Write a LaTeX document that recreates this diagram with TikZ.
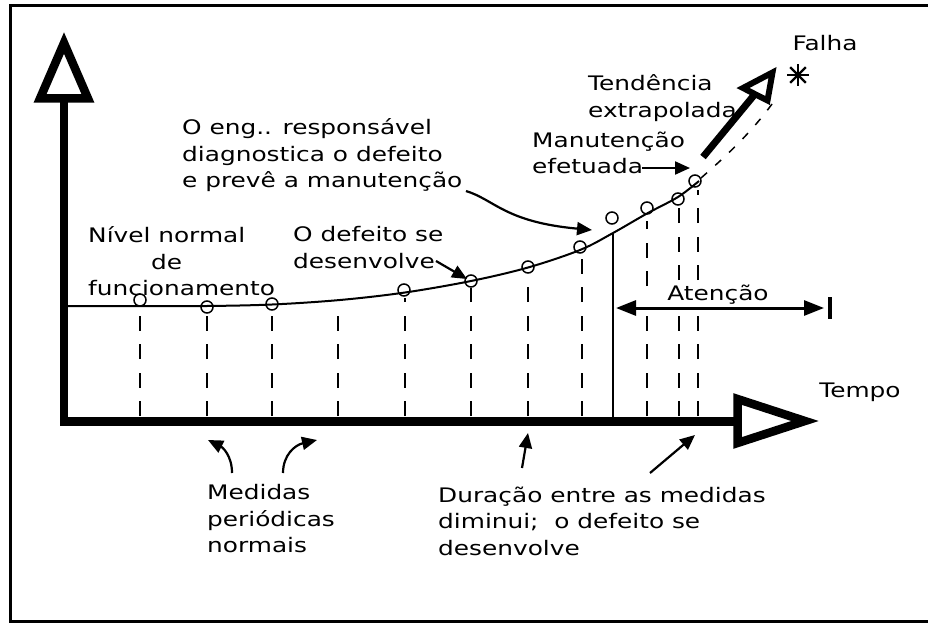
\documentclass[tikz,border=0pt]{standalone}
\usepackage{fontspec}
\setmainfont{DejaVu Sans}[FakeStretch=1.24]
\usetikzlibrary{arrows.meta}
\begin{document}
\begin{tikzpicture}[x=1pt,y=-1pt,
  lbl/.style={font=\fontsize{20}{26.5}\selectfont, inner sep=0pt, align=left, anchor=north west},
  word/.style={font=\fontsize{20}{26.5}\selectfont, inner sep=0pt},
  axis/.style={line width=8.5pt, line join=miter},
  pt/.style={circle, draw, line width=1.5pt, minimum size=12pt, inner sep=0pt},
  curve/.style={line width=2pt},
  tick/.style={dash pattern=on 15pt off 13.5pt, line width=1.6pt},
  thicktick/.style={tick, line width=2.8pt},
  pointer/.style={line width=2.2pt, -{Triangle[length=15pt,width=13pt]}},
]
\useasboundingbox (0,0) rectangle (928,623);
\fill[white] (0,0) rectangle (928,623);

% outer frame (right side runs off the page)
\draw[line width=3pt] (932,6) -- (10,6) -- (10,621) -- (932,621);

% axes with open triangular heads
\coordinate (ytop) at (64,98.5);
\coordinate (O) at (64,421.5);
\coordinate (xend) at (737.5,421.5);
\draw[axis] (ytop) -- (O) -- (xend);
\draw[axis] (40,98.5) -- (88,98.5) -- (64,43) -- cycle;
\draw[axis] (737.5,399) -- (737.5,443) -- (805,421) -- cycle;

% measurement curve
\draw[curve] plot[smooth, tension=0.55] coordinates {(68,306) (140,306) (207,306) (272,304.5) (340,300) (405,292.5) (471,281) (528,267.5) (580,250) (613,233) (647,213.5) (678,197) (699,181)};
% extrapolated part
\draw[line width=1.5pt, dash pattern=on 8pt off 11pt] (701,178) .. controls (725,157) and (750,134) .. (772,104);

% measurement instants
\foreach \x/\t in {140/315, 338/304, 582/256}
  \draw[tick] (\x,416) -- (\x,\t);
\foreach \x/\t in {207/314, 272/311, 405/298, 471/288, 528/275}
  \draw[thicktick] (\x,416) -- (\x,\t);
% the late instants leave room for the alert label
\draw[tick] (647,416) -- (647,316);
\draw[tick] (647,286) -- (647,221);
\foreach \x/\t in {679/206, 698/190} {
  \draw[thicktick] (\x,416) -- (\x,316);
  \draw[thicktick] (\x,280) -- (\x,\t);
}
\draw[line width=2.5pt] (613,233) -- (613,418);

% measured points
\node[pt] (c1) at (140,300) {};
\node[pt] (c2) at (207,307) {};
\node[pt] (c3) at (272,304) {};
\node[pt] (c4) at (404,290) {};
\node[pt] (c5) at (471,281) {};
\node[pt] (c6) at (528,267) {};
\node[pt] (c7) at (580,247) {};
\node[pt] (c8) at (612,218) {};
\node[pt] (c9) at (647,208) {};
\node[pt] (c10) at (678,199) {};
\node[pt] (c11) at (695,181) {};

% alert zone
\coordinate (atl) at (616,308);
\coordinate (atr) at (824,308);
\draw[line width=3pt, {Triangle[length=20pt,width=15pt]}-{Triangle[length=20pt,width=15pt]}] (atl) -- (atr);
\draw[line width=4pt] (830,297) -- (830,319);
\node[word, anchor=base] (aten) at (718,300) {Atenção};

% trend arrow and failure mark
\coordinate (tr0) at (703,157);
\coordinate (trb) at (755,94);
\draw[line width=7pt] (tr0) -- (trb);
\draw[line width=6pt, line join=miter] (743,88) -- (767.5,100.5) -- (772.5,72.5) -- cycle;
\foreach \a in {0,45,90,135}
  \draw[line width=2.2pt] (798,75) ++(\a:11) -- ++(\a+180:22);
\node[word] (falha) at (825,43) {Falha};
\node[word, anchor=base] (tempo) at (860,397) {Tempo};

% labels
\node[lbl] (eng) at (182,118.5) {O eng.. responsável\\diagnostica o defeito\\e prevê a manutenção};
\node[lbl] (nivel) at (88,226.5) {Nível normal\\\hspace*{63pt}de\\funcionamento};
\node[lbl] (defeito) at (293,226.5) {O defeito se\\desenvolve};
\node[lbl] (tend) at (588,74.5) {Tendência\\extrapolada};
\node[lbl] (manut) at (532,131.5) {Manutenção\\efetuada};
\node[lbl] (medidas) at (207,484.5) {Medidas\\periódicas\\normais};
\node[lbl] (duracao) at (438,486.5) {Duração entre as medidas\\diminui;~ o defeito se\\desenvolve};

% label pointers
\coordinate (p1s) at (436,261);
\coordinate (p1e) at (467,279);
\draw[pointer] (p1s) -- (p1e);
\coordinate (p2s) at (466,191);
\coordinate (p2e) at (592,230);
\draw[pointer] (p2s) .. controls (495,200) and (505,222) .. (p2e);
\coordinate (p3s) at (642,168);
\coordinate (p3e) at (690,168);
\draw[pointer] (p3s) -- (p3e);
\coordinate (p4s) at (232,473);
\coordinate (p4e) at (208,440);
\draw[pointer] (p4s) .. controls (232,455) and (222,447) .. (p4e);
\coordinate (p5s) at (283,473);
\coordinate (p5e) at (317,440);
\draw[pointer] (p5s) .. controls (283,455) and (295,445) .. (p5e);
\coordinate (p6s) at (522,468);
\coordinate (p6e) at (528,433);
\draw[pointer] (p6s) -- (p6e);
\coordinate (p7s) at (650,473);
\coordinate (p7e) at (695,435);
\draw[pointer] (p7s) -- (p7e);
\end{tikzpicture}
\end{document}
